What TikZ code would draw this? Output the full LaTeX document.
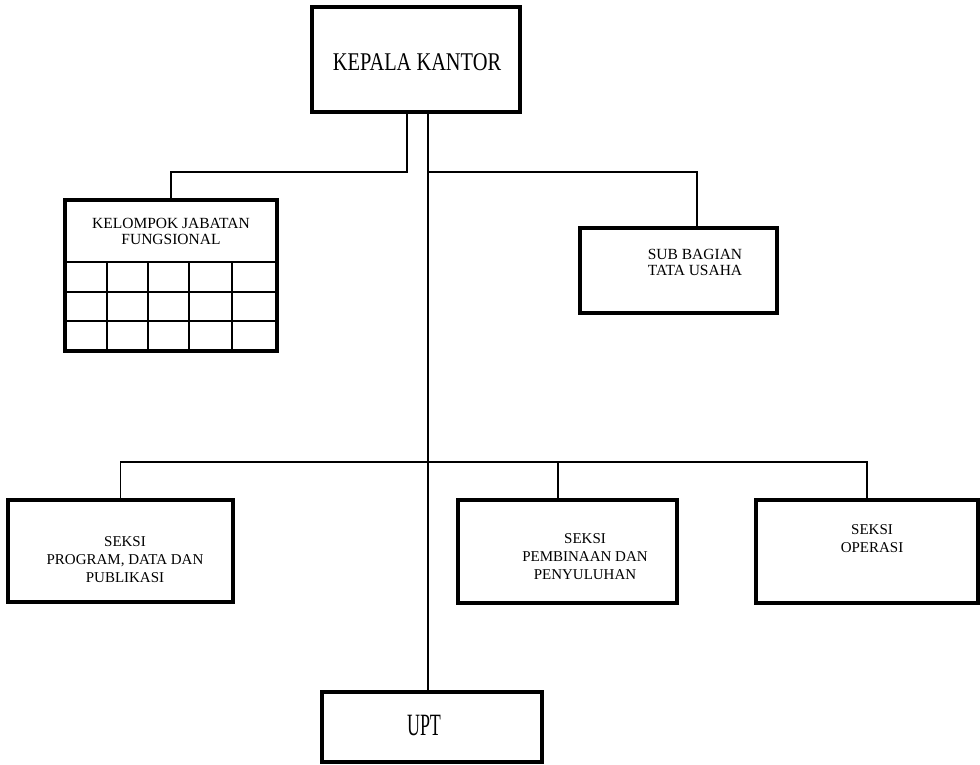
\documentclass[tikz,border=0pt]{standalone}
\usepackage{fontspec}
\setmainfont{Liberation Serif}
\newfontfamily\condfont[FakeStretch=0.8]{Liberation Serif}
\newfontfamily\narrowfont[FakeStretch=0.58]{Liberation Serif}

\tikzset{
  box/.style={draw,line width=4pt,inner sep=0pt,outer sep=0pt},
  link/.style={line width=1.8pt},
  small/.style={align=center,font=\fontsize{15}{18}\selectfont}
}

\begin{document}
\begin{tikzpicture}[x=1pt,y=-1pt]
        \useasboundingbox (0,0) rectangle (980,765);

        % boxes
        \node (kepala) at (416,59.5) [box,minimum width=208pt,minimum height=105pt] {};
        \node at (417,62) {\condfont\fontsize{25.5}{28}\selectfont KEPALA KANTOR};

        \node (kjf) at (171,275.5) [box,minimum width=212pt,minimum height=151pt] {};
        \node[small,font=\fontsize{15.5}{16}\selectfont] at (171,231) {KELOMPOK JABATAN\\FUNGSIONAL};
        \draw[line width=2.5pt] (65,262) -- (277,262);
        \foreach \y in {292,321}
            \draw[line width=2.5pt] (65,\y) -- (277,\y);
        \foreach \x in {107,148,189,232}
            \draw[line width=2.5pt] (\x,262) -- (\x,351);

        \node (sub) at (678.5,270.5) [box,minimum width=197pt,minimum height=85pt] {};
        \node[small,font=\fontsize{15.5}{16}\selectfont] at (695,262) {SUB BAGIAN\\TATA USAHA};

        \node (prog) at (120.5,551) [box,minimum width=225pt,minimum height=102pt] {};
        \node[small] at (125,560) {SEKSI\\PROGRAM, DATA DAN\\PUBLIKASI};

        \node (pemb) at (567.5,551.5) [box,minimum width=219pt,minimum height=103pt] {};
        \node[small] at (585,557) {SEKSI\\PEMBINAAN DAN\\PENYULUHAN};

        \node (opr) at (867,551.5) [box,minimum width=222pt,minimum height=103pt] {};
        \node[small] at (872,539) {SEKSI\\OPERASI};

        \node (upt) at (432,727) [box,minimum width=220pt,minimum height=70pt] {};
        \node at (424,725) {\narrowfont\fontsize{31}{32}\selectfont UPT};

        % connectors
        \coordinate (j1) at (407,172);
        \coordinate (spine) at (428,172);
        \coordinate (j2) at (697,172);
        \coordinate (bus) at (428,462);
        \coordinate (pb) at (558,462);

        \draw[link] (kepala.south -| j1) -- (j1) -| (kjf.north);
        \draw[link] (kepala.south -| spine) -- (upt.north -| spine);
        \draw[link] (spine) -- (j2) -- (j2 |- sub.north);
        \draw[link] (prog.north) -- (prog.north |- bus) -- (opr.north |- bus) -- (opr.north);
        \draw[link] (pb) -- (pb |- pemb.north);

\end{tikzpicture}
\end{document}
